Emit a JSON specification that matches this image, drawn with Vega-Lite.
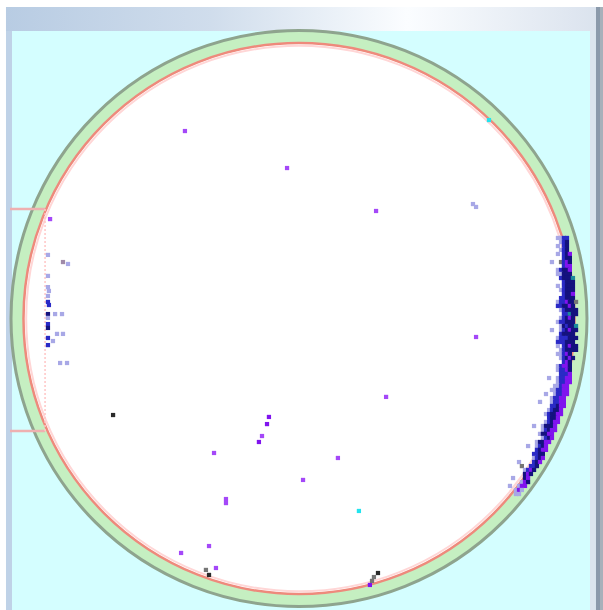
{
  "$schema": "https://vega.github.io/schema/vega-lite/v6.json",
  "width": 603,
  "height": 610,
  "padding": 0,
  "autosize": {"type": "none"},
  "background": "#ffffff",
  "config": {"view": {"stroke": null}},
  "resolve": {"scale": {"color": "independent"}},
  "datasets": {
    "frame": [
      {"part": "surround", "x": -152.08, "x2": 157.79, "y": 161.68, "y2": -151.3},
      {"part": "field", "x": -148.96, "x2": 151.04, "y": 149.22, "y2": -151.3},
      {"part": "gutter", "x": 151.04, "x2": 154.15, "y": 149.22, "y2": -151.3},
      {"part": "scroll", "x": 154.15, "x2": 156.23, "y": 161.68, "y2": -151.3},
      {"part": "scroll_edge", "x": 156.23, "x2": 157.79, "y": 161.68, "y2": -151.3}
    ],
    "header": [
      {"x": -152.08, "x2": 154.15, "y": 161.68, "y2": 149.22}
    ],
    "wafer": [
      {"x": 0, "y": 0}
    ],
    "flat": [
      {"x": -150.0, "x2": -131.8, "y": 56.8, "y2": 56.8},
      {"x": -150.0, "x2": -131.8, "y": -58.4, "y2": -58.4}
    ],
    "chord": [
      {"x": -131.8, "x2": -131.8, "y": 56.8, "y2": -58.4}
    ],
    "defects": [
      {"x": -59.2, "y": 97.3, "cls": "A"},
      {"x": -6.2, "y": 78.1, "cls": "A"},
      {"x": 40.0, "y": 55.8, "cls": "A"},
      {"x": -129.2, "y": 51.6, "cls": "A"},
      {"x": 91.9, "y": -9.6, "cls": "A"},
      {"x": 45.2, "y": -40.7, "cls": "A"},
      {"x": -19.2, "y": -61.0, "cls": "A"},
      {"x": -44.1, "y": -69.8, "cls": "A"},
      {"x": 20.2, "y": -72.4, "cls": "A"},
      {"x": 2.1, "y": -83.8, "cls": "A"},
      {"x": -37.9, "y": -93.7, "cls": "A"},
      {"x": -37.9, "y": -95.8, "cls": "A"},
      {"x": -46.7, "y": -118.1, "cls": "A"},
      {"x": -61.2, "y": -121.7, "cls": "A"},
      {"x": -43.1, "y": -129.5, "cls": "A"},
      {"x": -15.6, "y": -51.1, "cls": "V"},
      {"x": -16.6, "y": -54.8, "cls": "V"},
      {"x": -20.8, "y": -64.1, "cls": "V"},
      {"x": 36.8, "y": -138.3, "cls": "V"},
      {"x": 91.9, "y": 57.9, "cls": "L"},
      {"x": 90.3, "y": 59.4, "cls": "L"},
      {"x": -119.9, "y": 28.3, "cls": "L"},
      {"x": 98.6, "y": 103.0, "cls": "C"},
      {"x": 31.1, "y": -99.9, "cls": "C"},
      {"x": -122.5, "y": 29.3, "cls": "M"},
      {"x": -96.5, "y": -50.1, "cls": "K"},
      {"x": -46.7, "y": -133.1, "cls": "K"},
      {"x": 41.0, "y": -132.1, "cls": "K"},
      {"x": -48.3, "y": -130.5, "cls": "G"},
      {"x": 38.9, "y": -134.2, "cls": "G"},
      {"x": 37.9, "y": -136.2, "cls": "G"},

      {"x": -130.3, "y": 33.0, "cls": "L"},
      {"x": -130.3, "y": 22.1, "cls": "L"},
      {"x": -130.3, "y": 16.3, "cls": "L"},
      {"x": -129.8, "y": 14.3, "cls": "L"},
      {"x": -130.3, "y": 11.7, "cls": "L"},
      {"x": -130.3, "y": 8.6, "cls": "B"},
      {"x": -129.8, "y": 7.0, "cls": "B"},
      {"x": -130.3, "y": 2.3, "cls": "N"},
      {"x": -126.6, "y": 2.3, "cls": "L"},
      {"x": -123.0, "y": 2.3, "cls": "L"},
      {"x": -130.3, "y": 0.3, "cls": "L"},
      {"x": -130.3, "y": -2.9, "cls": "B"},
      {"x": -130.3, "y": -4.9, "cls": "N"},
      {"x": -125.6, "y": -8.0, "cls": "L"},
      {"x": -122.5, "y": -8.0, "cls": "L"},
      {"x": -130.3, "y": -10.1, "cls": "B"},
      {"x": -127.7, "y": -11.7, "cls": "L"},
      {"x": -130.3, "y": -13.8, "cls": "B"},
      {"x": -124.0, "y": -23.1, "cls": "L"},
      {"x": -120.4, "y": -23.1, "cls": "L"},

      {"x": 134.4, "y": 41.8, "cls": "L"}, {"x": 136.0, "y": 41.8, "cls": "L"}, {"x": 137.5, "y": 41.8, "cls": "B"}, {"x": 139.1, "y": 41.8, "cls": "B"},
      {"x": 136.0, "y": 39.7, "cls": "L"}, {"x": 137.5, "y": 39.7, "cls": "B"}, {"x": 139.1, "y": 39.7, "cls": "N"},
      {"x": 134.4, "y": 37.6, "cls": "L"}, {"x": 137.5, "y": 37.6, "cls": "B"}, {"x": 139.1, "y": 37.6, "cls": "N"},
      {"x": 136.0, "y": 35.6, "cls": "L"}, {"x": 137.5, "y": 35.6, "cls": "B"}, {"x": 139.1, "y": 35.6, "cls": "N"},
      {"x": 134.4, "y": 33.5, "cls": "L"}, {"x": 137.5, "y": 33.5, "cls": "B"}, {"x": 139.1, "y": 33.5, "cls": "N"}, {"x": 140.6, "y": 33.5, "cls": "V"},
      {"x": 137.5, "y": 31.4, "cls": "B"}, {"x": 139.1, "y": 31.4, "cls": "N"}, {"x": 140.6, "y": 31.4, "cls": "N"},
      {"x": 131.3, "y": 29.3, "cls": "L"}, {"x": 136.0, "y": 29.3, "cls": "G"}, {"x": 137.5, "y": 29.3, "cls": "B"}, {"x": 139.1, "y": 29.3, "cls": "V"}, {"x": 140.6, "y": 29.3, "cls": "N"},
      {"x": 137.5, "y": 27.2, "cls": "B"}, {"x": 139.1, "y": 27.2, "cls": "V"}, {"x": 140.6, "y": 27.2, "cls": "V"},
      {"x": 134.4, "y": 25.2, "cls": "L"}, {"x": 136.0, "y": 25.2, "cls": "B"}, {"x": 137.5, "y": 25.2, "cls": "N"}, {"x": 139.1, "y": 25.2, "cls": "N"}, {"x": 140.6, "y": 25.2, "cls": "V"},
      {"x": 134.4, "y": 23.1, "cls": "L"}, {"x": 136.0, "y": 23.1, "cls": "L"}, {"x": 137.5, "y": 23.1, "cls": "N"}, {"x": 139.1, "y": 23.1, "cls": "N"}, {"x": 140.6, "y": 23.1, "cls": "N"},
      {"x": 136.0, "y": 21.0, "cls": "B"}, {"x": 137.5, "y": 21.0, "cls": "N"}, {"x": 139.1, "y": 21.0, "cls": "N"}, {"x": 140.6, "y": 21.0, "cls": "N"}, {"x": 142.2, "y": 21.0, "cls": "T"},
      {"x": 137.5, "y": 18.9, "cls": "B"}, {"x": 139.1, "y": 18.9, "cls": "N"}, {"x": 140.6, "y": 18.9, "cls": "N"}, {"x": 142.2, "y": 18.9, "cls": "N"},
      {"x": 134.4, "y": 16.9, "cls": "L"}, {"x": 137.5, "y": 16.9, "cls": "B"}, {"x": 139.1, "y": 16.9, "cls": "N"}, {"x": 140.6, "y": 16.9, "cls": "N"}, {"x": 142.2, "y": 16.9, "cls": "N"},
      {"x": 136.0, "y": 14.8, "cls": "L"}, {"x": 137.5, "y": 14.8, "cls": "B"}, {"x": 139.1, "y": 14.8, "cls": "N"}, {"x": 140.6, "y": 14.8, "cls": "N"}, {"x": 142.2, "y": 14.8, "cls": "N"},
      {"x": 137.5, "y": 12.7, "cls": "B"}, {"x": 139.1, "y": 12.7, "cls": "N"}, {"x": 140.6, "y": 12.7, "cls": "N"}, {"x": 142.2, "y": 12.7, "cls": "V"},
      {"x": 136.0, "y": 10.6, "cls": "B"}, {"x": 137.5, "y": 10.6, "cls": "B"}, {"x": 139.1, "y": 10.6, "cls": "N"}, {"x": 140.6, "y": 10.6, "cls": "N"}, {"x": 142.2, "y": 10.6, "cls": "N"},
      {"x": 134.4, "y": 8.6, "cls": "L"}, {"x": 136.0, "y": 8.6, "cls": "B"}, {"x": 137.5, "y": 8.6, "cls": "B"}, {"x": 139.1, "y": 8.6, "cls": "V"}, {"x": 140.6, "y": 8.6, "cls": "N"}, {"x": 142.2, "y": 8.6, "cls": "N"}, {"x": 143.8, "y": 8.6, "cls": "G"},
      {"x": 134.4, "y": 6.5, "cls": "B"}, {"x": 136.0, "y": 6.5, "cls": "B"}, {"x": 137.5, "y": 6.5, "cls": "N"}, {"x": 139.1, "y": 6.5, "cls": "N"}, {"x": 140.6, "y": 6.5, "cls": "V"}, {"x": 142.2, "y": 6.5, "cls": "N"},
      {"x": 136.0, "y": 4.4, "cls": "L"}, {"x": 137.5, "y": 4.4, "cls": "B"}, {"x": 139.1, "y": 4.4, "cls": "N"}, {"x": 140.6, "y": 4.4, "cls": "N"}, {"x": 142.2, "y": 4.4, "cls": "N"}, {"x": 143.8, "y": 4.4, "cls": "N"},
      {"x": 137.5, "y": 2.3, "cls": "B"}, {"x": 139.1, "y": 2.3, "cls": "B"}, {"x": 140.6, "y": 2.3, "cls": "T"}, {"x": 142.2, "y": 2.3, "cls": "N"}, {"x": 143.8, "y": 2.3, "cls": "N"},
      {"x": 136.0, "y": 0.3, "cls": "L"}, {"x": 137.5, "y": 0.3, "cls": "B"}, {"x": 139.1, "y": 0.3, "cls": "N"}, {"x": 140.6, "y": 0.3, "cls": "V"}, {"x": 142.2, "y": 0.3, "cls": "N"},
      {"x": 134.4, "y": -1.8, "cls": "L"}, {"x": 136.0, "y": -1.8, "cls": "B"}, {"x": 137.5, "y": -1.8, "cls": "B"}, {"x": 139.1, "y": -1.8, "cls": "N"}, {"x": 140.6, "y": -1.8, "cls": "N"}, {"x": 142.2, "y": -1.8, "cls": "N"},
      {"x": 136.0, "y": -3.9, "cls": "L"}, {"x": 137.5, "y": -3.9, "cls": "N"}, {"x": 139.1, "y": -3.9, "cls": "B"}, {"x": 140.6, "y": -3.9, "cls": "N"}, {"x": 142.2, "y": -3.9, "cls": "N"}, {"x": 143.8, "y": -3.9, "cls": "T"},
      {"x": 131.3, "y": -6.0, "cls": "L"}, {"x": 136.0, "y": -6.0, "cls": "L"}, {"x": 137.5, "y": -6.0, "cls": "B"}, {"x": 139.1, "y": -6.0, "cls": "N"}, {"x": 140.6, "y": -6.0, "cls": "V"}, {"x": 142.2, "y": -6.0, "cls": "N"}, {"x": 143.8, "y": -6.0, "cls": "N"},
      {"x": 136.0, "y": -8.0, "cls": "B"}, {"x": 137.5, "y": -8.0, "cls": "N"}, {"x": 139.1, "y": -8.0, "cls": "N"}, {"x": 140.6, "y": -8.0, "cls": "N"}, {"x": 142.2, "y": -8.0, "cls": "N"},
      {"x": 134.4, "y": -10.1, "cls": "L"}, {"x": 136.0, "y": -10.1, "cls": "B"}, {"x": 137.5, "y": -10.1, "cls": "B"}, {"x": 139.1, "y": -10.1, "cls": "B"}, {"x": 140.6, "y": -10.1, "cls": "N"}, {"x": 142.2, "y": -10.1, "cls": "N"}, {"x": 143.8, "y": -10.1, "cls": "N"},
      {"x": 134.4, "y": -12.2, "cls": "B"}, {"x": 136.0, "y": -12.2, "cls": "B"}, {"x": 137.5, "y": -12.2, "cls": "B"}, {"x": 139.1, "y": -12.2, "cls": "N"}, {"x": 140.6, "y": -12.2, "cls": "N"}, {"x": 142.2, "y": -12.2, "cls": "N"},
      {"x": 134.4, "y": -14.3, "cls": "L"}, {"x": 137.5, "y": -14.3, "cls": "B"}, {"x": 139.1, "y": -14.3, "cls": "N"}, {"x": 140.6, "y": -14.3, "cls": "V"}, {"x": 142.2, "y": -14.3, "cls": "N"}, {"x": 143.8, "y": -14.3, "cls": "N"},
      {"x": 136.0, "y": -16.3, "cls": "L"}, {"x": 137.5, "y": -16.3, "cls": "B"}, {"x": 139.1, "y": -16.3, "cls": "N"}, {"x": 140.6, "y": -16.3, "cls": "N"}, {"x": 142.2, "y": -16.3, "cls": "N"}, {"x": 143.8, "y": -16.3, "cls": "N"},
      {"x": 134.4, "y": -18.4, "cls": "L"}, {"x": 136.0, "y": -18.4, "cls": "L"}, {"x": 137.5, "y": -18.4, "cls": "B"}, {"x": 139.1, "y": -18.4, "cls": "V"}, {"x": 140.6, "y": -18.4, "cls": "N"},
      {"x": 136.0, "y": -20.5, "cls": "L"}, {"x": 137.5, "y": -20.5, "cls": "B"}, {"x": 139.1, "y": -20.5, "cls": "N"}, {"x": 140.6, "y": -20.5, "cls": "V"}, {"x": 142.2, "y": -20.5, "cls": "N"},
      {"x": 137.5, "y": -22.6, "cls": "B"}, {"x": 139.1, "y": -22.6, "cls": "V"}, {"x": 140.6, "y": -22.6, "cls": "N"},
      {"x": 134.4, "y": -24.7, "cls": "L"}, {"x": 136.0, "y": -24.7, "cls": "B"}, {"x": 137.5, "y": -24.7, "cls": "V"}, {"x": 139.1, "y": -24.7, "cls": "V"}, {"x": 140.6, "y": -24.7, "cls": "N"},
      {"x": 134.4, "y": -26.7, "cls": "L"}, {"x": 136.0, "y": -26.7, "cls": "B"}, {"x": 137.5, "y": -26.7, "cls": "B"}, {"x": 139.1, "y": -26.7, "cls": "V"}, {"x": 140.6, "y": -26.7, "cls": "N"},
      {"x": 136.0, "y": -28.8, "cls": "B"}, {"x": 137.5, "y": -28.8, "cls": "B"}, {"x": 139.1, "y": -28.8, "cls": "B"}, {"x": 140.6, "y": -28.8, "cls": "V"},
      {"x": 129.8, "y": -30.9, "cls": "L"}, {"x": 134.4, "y": -30.9, "cls": "L"}, {"x": 136.0, "y": -30.9, "cls": "B"}, {"x": 137.5, "y": -30.9, "cls": "B"}, {"x": 139.1, "y": -30.9, "cls": "V"}, {"x": 140.6, "y": -30.9, "cls": "V"},
      {"x": 134.4, "y": -33.0, "cls": "L"}, {"x": 136.0, "y": -33.0, "cls": "B"}, {"x": 137.5, "y": -33.0, "cls": "B"}, {"x": 139.1, "y": -33.0, "cls": "V"}, {"x": 140.6, "y": -33.0, "cls": "V"},
      {"x": 132.9, "y": -35.0, "cls": "L"}, {"x": 134.4, "y": -35.0, "cls": "L"}, {"x": 136.0, "y": -35.0, "cls": "B"}, {"x": 137.5, "y": -35.0, "cls": "V"}, {"x": 139.1, "y": -35.0, "cls": "V"},
      {"x": 131.3, "y": -37.1, "cls": "L"}, {"x": 132.9, "y": -37.1, "cls": "L"}, {"x": 134.4, "y": -37.1, "cls": "B"}, {"x": 136.0, "y": -37.1, "cls": "B"}, {"x": 137.5, "y": -37.1, "cls": "V"}, {"x": 139.1, "y": -37.1, "cls": "V"},
      {"x": 128.2, "y": -39.2, "cls": "L"}, {"x": 132.9, "y": -39.2, "cls": "L"}, {"x": 134.4, "y": -39.2, "cls": "B"}, {"x": 136.0, "y": -39.2, "cls": "B"}, {"x": 137.5, "y": -39.2, "cls": "V"}, {"x": 139.1, "y": -39.2, "cls": "V"},
      {"x": 131.3, "y": -41.3, "cls": "L"}, {"x": 132.9, "y": -41.3, "cls": "B"}, {"x": 134.4, "y": -41.3, "cls": "B"}, {"x": 136.0, "y": -41.3, "cls": "V"}, {"x": 137.5, "y": -41.3, "cls": "V"},
      {"x": 125.1, "y": -43.3, "cls": "L"}, {"x": 131.3, "y": -43.3, "cls": "L"}, {"x": 132.9, "y": -43.3, "cls": "B"}, {"x": 134.4, "y": -43.3, "cls": "B"}, {"x": 136.0, "y": -43.3, "cls": "V"}, {"x": 137.5, "y": -43.3, "cls": "V"},
      {"x": 131.3, "y": -45.4, "cls": "B"}, {"x": 132.9, "y": -45.4, "cls": "B"}, {"x": 134.4, "y": -45.4, "cls": "N"}, {"x": 136.0, "y": -45.4, "cls": "V"}, {"x": 137.5, "y": -45.4, "cls": "V"},
      {"x": 129.8, "y": -47.5, "cls": "L"}, {"x": 131.3, "y": -47.5, "cls": "B"}, {"x": 132.9, "y": -47.5, "cls": "N"}, {"x": 134.4, "y": -47.5, "cls": "N"}, {"x": 136.0, "y": -47.5, "cls": "V"},
      {"x": 128.2, "y": -49.6, "cls": "L"}, {"x": 129.8, "y": -49.6, "cls": "B"}, {"x": 131.3, "y": -49.6, "cls": "N"}, {"x": 132.9, "y": -49.6, "cls": "N"}, {"x": 134.4, "y": -49.6, "cls": "V"}, {"x": 136.0, "y": -49.6, "cls": "V"},
      {"x": 129.8, "y": -51.6, "cls": "B"}, {"x": 131.3, "y": -51.6, "cls": "N"}, {"x": 132.9, "y": -51.6, "cls": "N"}, {"x": 134.4, "y": -51.6, "cls": "V"},
      {"x": 128.2, "y": -53.7, "cls": "L"}, {"x": 129.8, "y": -53.7, "cls": "B"}, {"x": 131.3, "y": -53.7, "cls": "N"}, {"x": 132.9, "y": -53.7, "cls": "V"}, {"x": 134.4, "y": -53.7, "cls": "V"},
      {"x": 122.0, "y": -55.8, "cls": "L"}, {"x": 126.6, "y": -55.8, "cls": "L"}, {"x": 128.2, "y": -55.8, "cls": "N"}, {"x": 129.8, "y": -55.8, "cls": "N"}, {"x": 131.3, "y": -55.8, "cls": "N"}, {"x": 132.9, "y": -55.8, "cls": "V"},
      {"x": 126.6, "y": -57.9, "cls": "L"}, {"x": 128.2, "y": -57.9, "cls": "B"}, {"x": 129.8, "y": -57.9, "cls": "N"}, {"x": 131.3, "y": -57.9, "cls": "V"}, {"x": 132.9, "y": -57.9, "cls": "V"},
      {"x": 125.1, "y": -59.9, "cls": "L"}, {"x": 126.6, "y": -59.9, "cls": "N"}, {"x": 128.2, "y": -59.9, "cls": "N"}, {"x": 129.8, "y": -59.9, "cls": "V"}, {"x": 131.3, "y": -59.9, "cls": "V"},
      {"x": 126.6, "y": -62.0, "cls": "L"}, {"x": 128.2, "y": -62.0, "cls": "B"}, {"x": 129.8, "y": -62.0, "cls": "N"}, {"x": 131.3, "y": -62.0, "cls": "V"},
      {"x": 123.5, "y": -64.1, "cls": "L"}, {"x": 125.1, "y": -64.1, "cls": "N"}, {"x": 126.6, "y": -64.1, "cls": "N"}, {"x": 128.2, "y": -64.1, "cls": "V"}, {"x": 129.8, "y": -64.1, "cls": "V"},
      {"x": 118.9, "y": -66.2, "cls": "L"}, {"x": 123.5, "y": -66.2, "cls": "L"}, {"x": 125.1, "y": -66.2, "cls": "B"}, {"x": 126.6, "y": -66.2, "cls": "N"}, {"x": 128.2, "y": -66.2, "cls": "V"},
      {"x": 123.5, "y": -68.2, "cls": "B"}, {"x": 125.1, "y": -68.2, "cls": "N"}, {"x": 126.6, "y": -68.2, "cls": "V"}, {"x": 128.2, "y": -68.2, "cls": "V"},
      {"x": 122.0, "y": -70.3, "cls": "B"}, {"x": 123.5, "y": -70.3, "cls": "B"}, {"x": 125.1, "y": -70.3, "cls": "N"}, {"x": 126.6, "y": -70.3, "cls": "N"},
      {"x": 122.0, "y": -72.4, "cls": "L"}, {"x": 123.5, "y": -72.4, "cls": "B"}, {"x": 125.1, "y": -72.4, "cls": "N"}, {"x": 126.6, "y": -72.4, "cls": "V"},
      {"x": 114.2, "y": -74.5, "cls": "L"}, {"x": 122.0, "y": -74.5, "cls": "B"}, {"x": 123.5, "y": -74.5, "cls": "N"}, {"x": 125.1, "y": -74.5, "cls": "V"},
      {"x": 115.7, "y": -76.6, "cls": "G"}, {"x": 120.4, "y": -76.6, "cls": "B"}, {"x": 122.0, "y": -76.6, "cls": "B"}, {"x": 123.5, "y": -76.6, "cls": "N"},
      {"x": 117.3, "y": -78.6, "cls": "L"}, {"x": 118.9, "y": -78.6, "cls": "B"}, {"x": 120.4, "y": -78.6, "cls": "V"}, {"x": 122.0, "y": -78.6, "cls": "N"},
      {"x": 117.3, "y": -80.7, "cls": "N"}, {"x": 118.9, "y": -80.7, "cls": "V"}, {"x": 120.4, "y": -80.7, "cls": "N"},
      {"x": 111.1, "y": -82.8, "cls": "L"}, {"x": 117.3, "y": -82.8, "cls": "N"}, {"x": 118.9, "y": -82.8, "cls": "V"},
      {"x": 115.7, "y": -84.9, "cls": "L"}, {"x": 117.3, "y": -84.9, "cls": "V"}, {"x": 118.9, "y": -84.9, "cls": "N"},
      {"x": 109.5, "y": -86.9, "cls": "L"}, {"x": 114.2, "y": -86.9, "cls": "L"}, {"x": 115.7, "y": -86.9, "cls": "V"}, {"x": 117.3, "y": -86.9, "cls": "V"},
      {"x": 112.6, "y": -89.0, "cls": "L"}, {"x": 114.2, "y": -89.0, "cls": "V"}, {"x": 115.7, "y": -89.0, "cls": "L"},
      {"x": 112.6, "y": -91.1, "cls": "L"}, {"x": 114.2, "y": -91.1, "cls": "L"}
    ]
  },
  "encoding": {
    "x": {"field": "x", "type": "quantitative", "scale": {"domain": [-155.19, 157.79], "nice": false, "zero": false}, "axis": null},
    "y": {"field": "y", "type": "quantitative", "scale": {"domain": [-151.3, 165.31], "nice": false, "zero": false}, "axis": null}
  },
  "layer": [
    {
      "data": {"name": "frame"},
      "mark": {"type": "rect"},
      "encoding": {
        "x2": {"field": "x2"},
        "y2": {"field": "y2"},
        "color": {
          "field": "part",
          "type": "nominal",
          "scale": {
            "domain": ["surround", "field", "gutter", "scroll", "scroll_edge"],
            "range": ["#bfd2e7", "#d4feff", "#dbe5ee", "#8b9aab", "#a7b0ba"]
          },
          "legend": null
        }
      }
    },
    {
      "data": {"name": "header"},
      "mark": {
        "type": "rect",
        "color": {
          "gradient": "linear",
          "x1": 0, "y1": 0, "x2": 1, "y2": 0,
          "stops": [
            {"offset": 0, "color": "#b8cce3"},
            {"offset": 0.35, "color": "#d0ddec"},
            {"offset": 0.68, "color": "#fbfdff"},
            {"offset": 1, "color": "#dbe3ee"}
          ]
        }
      },
      "encoding": {"x2": {"field": "x2"}, "y2": {"field": "y2"}}
    },
    {
      "data": {"name": "wafer"},
      "mark": {"type": "point", "shape": "circle", "size": 331776, "filled": true, "fill": "#c5efc1", "stroke": "#8ea48e", "strokeWidth": 3, "opacity": 1}
    },
    {
      "data": {"name": "wafer"},
      "mark": {"type": "point", "shape": "circle", "size": 303601, "filled": true, "fill": "#ffffff", "stroke": "#ee8a7c", "strokeWidth": 2.5, "opacity": 1}
    },
    {
      "data": {"name": "wafer"},
      "mark": {"type": "point", "shape": "circle", "size": 297679, "filled": false, "stroke": "#ffd6d6", "strokeWidth": 2, "opacity": 1}
    },
    {
      "data": {"name": "flat"},
      "mark": {"type": "rule", "color": "#eeb0b0", "strokeWidth": 2.5},
      "encoding": {"x2": {"field": "x2"}, "y2": {"field": "y2"}}
    },
    {
      "data": {"name": "chord"},
      "mark": {"type": "rule", "color": "#ffc6c6", "strokeWidth": 1.5, "strokeDash": [2, 2]},
      "encoding": {"x2": {"field": "x2"}, "y2": {"field": "y2"}}
    },
    {
      "data": {"name": "defects"},
      "mark": {"type": "point", "shape": "square", "filled": true, "size": 18, "opacity": 1, "strokeWidth": 0},
      "encoding": {
        "color": {
          "field": "cls",
          "type": "nominal",
          "scale": {
            "domain": ["A", "V", "B", "N", "L", "K", "G", "C", "T", "M"],
            "range": ["#a448f8", "#8014ee", "#2a2ac6", "#14127e", "#a8a8e6", "#2a2a2a", "#767676", "#22e4ee", "#1a8a9a", "#a08aa8"]
          },
          "legend": null
        }
      }
    }
  ]
}
